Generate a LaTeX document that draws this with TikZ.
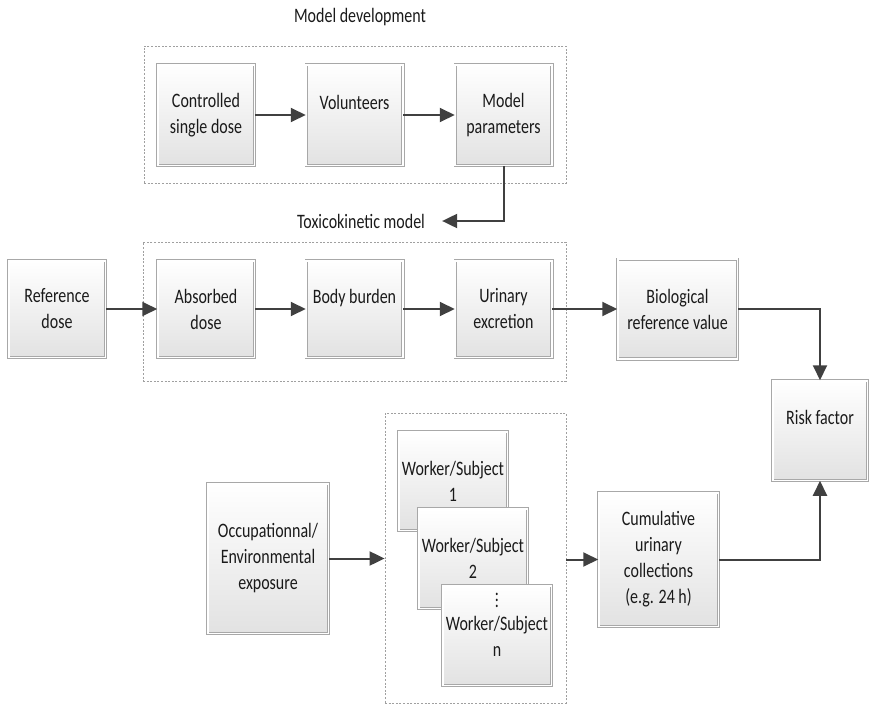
\documentclass[tikz,border=0pt]{standalone}
\usepackage{fontspec}
\setmainfont{Carlito}[FakeStretch=0.78]
\usetikzlibrary{arrows.meta}

\definecolor{linegray}{HTML}{404040}
\definecolor{framegray}{HTML}{A8A8A8}
\definecolor{groupgray}{HTML}{A0A0A0}
\definecolor{shadegray}{HTML}{E2E2E2}
\definecolor{txt}{HTML}{1A1A1A}

% extra depth below the last line, to move a box text upwards
\newcommand{\liftup}[1]{\rule[-#1]{0pt}{0pt}}
% vertical ellipsis built from text periods
\newcommand{\dotcolumn}{\vbox{\baselineskip=6pt\lineskiplimit=-20pt
  \hbox{.}\hbox{.}\hbox{.}}}

\begin{document}
\begin{tikzpicture}[x=1pt,y=-1pt,
  every node/.style={font=\fontsize{20.5}{26}\selectfont, text=txt},
  proc/.style n args={2}{rectangle, draw=framegray, line width=0.7pt,
    double=white, double distance=1.8pt, top color=white, bottom color=shadegray,
    align=center, inner sep=2pt, minimum width=#1, minimum height=#2},
  group/.style n args={2}{rectangle, draw=groupgray, line width=0.8pt,
    dash pattern=on 2pt off 1.6pt, inner sep=0pt, minimum width=#1, minimum height=#2},
  caption/.style={inner sep=0pt},
  conn/.style={draw=linegray, line width=2pt,
    -{Triangle[length=15pt,width=14pt]}}
]
\useasboundingbox (0,0) rectangle (871,704);

% dashed groupings
\node[group={422}{137}] (grpA) at (355,114.5) {};
\node[group={423}{139}] (grpB) at (354.5,311.5) {};
\node[group={181}{290}] (grpC) at (475.5,558) {};

\node[caption] (dev) at (360,17) {Model development};
\node[caption] (tox) at (361,221) {Toxicokinetic model};

% model development
\node[proc={96.8}{100.8}] (ctrl)  at (206,115)   {Controlled\\single dose};
\node[proc={96.8}{100.8}] (vol)   at (354.5,115) {Volunteers\liftup{26pt}};
\node[proc={96.8}{100.8}] (model) at (503.5,115) {Model\\parameters};

% toxicokinetic chain
\node[proc={96.8}{96.8}] (ref)  at (57,309)    {Reference\\dose};
\node[proc={96.8}{96.8}] (abs)  at (206,309)   {Absorbed\\dose};
\node[proc={96.8}{96.8}] (body) at (354.5,309) {Body burden\liftup{26pt}};
\node[proc={96.8}{96.8}] (urin) at (503.5,309) {Urinary\\excretion};
\node[proc={119.8}{99.8}] (bio) at (677.5,309) {Biological\\reference value};
\node[proc={94.8}{99.8}] (risk) at (820,430.5) {Risk factor\liftup{26pt}};

% exposure
\node[proc={120.8}{149.8}] (occ) at (268,558.5) {Occupationnal/\\Environmental\\exposure};
\node[proc={108.8}{98.8}] (w1) at (453,481)   {Worker/Subject\\1};
\node[proc={108.8}{99.8}] (w2) at (473,558.5) {Worker/Subject\\2};
\node[proc={108.8}{99.8}] (wn) at (497,635.5) {\dotcolumn\\[-3pt]Worker/Subject\\n\liftup{22pt}};
\node[proc={119.8}{133.8}] (cum) at (658.5,559.5) {Cumulative\\urinary\\collections\\(e.g. 24 h)};

% connectors
\draw[conn] (ctrl) -- (vol);
\draw[conn] (vol) -- (model);
\draw[conn] (model.south) |- ([xshift=17pt]tox.east);

\draw[conn] (ref) -- (abs);
\draw[conn] (abs) -- (body);
\draw[conn] (body) -- (urin);
\draw[conn] (urin) -- (bio);
\draw[conn] (bio.east) -| (risk.north);

\draw[conn] (occ.east) -- (occ.east -| grpC.west);
\draw[conn] (grpC.east |- cum.west) -- (cum.west);
\draw[conn] (cum.east) -| (risk.south);
\end{tikzpicture}
\end{document}
